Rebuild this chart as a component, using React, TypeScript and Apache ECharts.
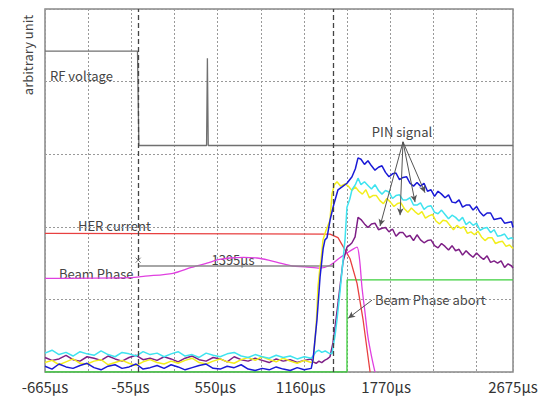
import React, { useEffect, useRef } from 'react';
import * as echarts from 'echarts';

// ---- axis ----
const X_MIN = -665;
const X_MAX = 2675;
const xTickValues = [-665, -55, 550, 1160, 1770, 2675];
const xTickLabels = ['-665μs', '-55μs', '550μs', '1160μs', '1770μs', '2675μs'];
const gridStepUs = 308; // spacing of dotted vertical grid lines (µs)
const Y_MIN = 0;
const Y_MAX = 5;
const markerTimes = [0, 1395]; // dashed vertical lines

// ---- RF voltage ----
const rfTimes = [-665, -5, 5, 488, 494, 500, 2675];
const rfValues = [4.42, 4.42, 3.12, 3.12, 4.32, 3.12, 3.12];

// ---- HER current ----
const herTimes = [-665, 1369, 1426, 1462, 1512, 1562, 1605, 1655];
const herValues = [1.91, 1.9, 1.85, 1.73, 1.56, 1.22, 0.72, 0.0];

// ---- Beam phase ----
const phaseTimes = [-665, -60, 50, 249, 380, 491, 580, 655, 750, 848, 930, 1012, 1100, 1191, 1298, 1369, 1430, 1490, 1540, 1562, 1580, 1597, 1620, 1640, 1665, 1690];
const phaseValues = [1.29, 1.3, 1.32, 1.36, 1.44, 1.5, 1.55, 1.57, 1.58, 1.57, 1.54, 1.5, 1.46, 1.45, 1.43, 1.47, 1.56, 1.64, 1.7, 1.72, 1.55, 1.17, 0.8, 0.48, 0.22, 0.0];

// ---- Beam phase abort (green) ----
const abortTimes = [-665, 1490, 1491, 2675];
const abortValues = [0.0, 0.0, 1.27, 1.27];

// ---- 1395 µs annotation ----
const spanTimes = [0, 1395];
const spanLevel = 1.46;
const spanMarker = [0, 1.54];

// ---- PIN signals: shared baseline ----
const baseTimes = [-665, -615, -565, -515, -465, -415, -365, -315, -265, -215, -165, -115, -65, -15, 35, 85, 135, 185, 235, 285, 335, 385, 435, 485, 535, 585, 635, 685, 735, 785, 835, 885, 935, 985, 1035, 1085, 1135, 1185, 1235];
const blueBase = [0.08, 0.04, 0.11, 0.07, 0.05, 0.09, 0.12, 0.06, 0.03, 0.08, 0.1, 0.05, 0.07, 0.11, 0.04, 0.06, 0.09, 0.05, 0.1, 0.07, 0.03, 0.06, 0.09, 0.11, 0.05, 0.04, 0.08, 0.06, 0.1, 0.04, 0.02, 0.05, 0.03, 0.07, 0.04, 0.02, 0.06, 0.03, 0.05];
const yellowBase = [0.13, 0.16, 0.1, 0.14, 0.18, 0.12, 0.11, 0.15, 0.17, 0.1, 0.13, 0.16, 0.12, 0.09, 0.14, 0.17, 0.13, 0.11, 0.15, 0.12, 0.16, 0.19, 0.13, 0.11, 0.15, 0.18, 0.14, 0.12, 0.17, 0.2, 0.16, 0.21, 0.17, 0.14, 0.19, 0.15, 0.12, 0.16, 0.13];
const purpleBase = [0.2, 0.16, 0.18, 0.23, 0.17, 0.15, 0.21, 0.19, 0.16, 0.22, 0.18, 0.15, 0.2, 0.23, 0.17, 0.19, 0.16, 0.21, 0.18, 0.14, 0.19, 0.22, 0.17, 0.15, 0.2, 0.18, 0.14, 0.21, 0.17, 0.15, 0.19, 0.16, 0.13, 0.18, 0.15, 0.17, 0.13, 0.16, 0.18];
const cyanBase = [0.26, 0.3, 0.24, 0.27, 0.22, 0.28, 0.25, 0.23, 0.29, 0.24, 0.21, 0.27, 0.25, 0.22, 0.28, 0.24, 0.26, 0.21, 0.25, 0.28, 0.22, 0.24, 0.2, 0.26, 0.23, 0.21, 0.25, 0.27, 0.22, 0.2, 0.24, 0.21, 0.19, 0.23, 0.2, 0.22, 0.18, 0.21, 0.19];

// ---- PIN signals: rise ----
const blueRise = [[1248, 0.17], [1262, 0.45], [1276, 0.72], [1298, 1.31], [1320, 1.7], [1333, 1.82], [1348, 1.85], [1369, 2.09], [1395, 2.3], [1426, 2.51], [1455, 2.55], [1490, 2.6], [1526, 2.69], [1550, 2.8], [1569, 2.95]];
const cyanRise = [[1248, 0.22], [1270, 0.28], [1290, 0.3], [1310, 0.27], [1335, 0.29], [1360, 0.26], [1383, 0.25], [1405, 0.5], [1419, 0.72], [1440, 1.1], [1455, 1.4], [1476, 1.82], [1490, 2.27], [1510, 2.38], [1526, 2.51], [1550, 2.58], [1569, 2.67]];
const yellowRise = [[1248, 0.14], [1262, 0.45], [1272, 0.7], [1283, 1.17], [1295, 1.4], [1305, 1.54], [1319, 1.82], [1340, 1.95], [1369, 2.09], [1383, 2.45], [1400, 2.58], [1419, 2.62], [1445, 2.56], [1476, 2.59]];
const purpleRise = [[1248, 0.14], [1270, 0.12], [1290, 0.15], [1310, 0.13], [1330, 0.16], [1350, 0.18], [1369, 0.21], [1390, 0.4], [1405, 0.62], [1420, 0.85], [1440, 1.17], [1462, 1.52], [1490, 1.72], [1510, 1.75], [1526, 1.78], [1548, 1.86], [1569, 2.13]];

// ---- PIN signals: decay ----
const decayTimes = [1590, 1615, 1640, 1665, 1690, 1715, 1740, 1765, 1790, 1815, 1840, 1865, 1890, 1915, 1940, 1965, 1990, 2015, 2040, 2065, 2090, 2115, 2140, 2165, 2190, 2215, 2240, 2265, 2290, 2315, 2340, 2365, 2390, 2415, 2440, 2465, 2490, 2515, 2540, 2565, 2590, 2615, 2640, 2665, 2675];
const blueDecay = [2.93, 2.86, 2.91, 2.84, 2.78, 2.82, 2.84, 2.75, 2.69, 2.73, 2.74, 2.65, 2.68, 2.69, 2.6, 2.56, 2.61, 2.56, 2.6, 2.49, 2.51, 2.42, 2.49, 2.45, 2.4, 2.44, 2.34, 2.33, 2.37, 2.27, 2.3, 2.3, 2.23, 2.28, 2.2, 2.15, 2.19, 2.19, 2.1, 2.11, 2.12, 2.05, 2.06, 2.07, 1.99];
const cyanDecay = [2.58, 2.62, 2.57, 2.52, 2.58, 2.5, 2.45, 2.5, 2.48, 2.39, 2.43, 2.44, 2.37, 2.37, 2.4, 2.3, 2.3, 2.33, 2.24, 2.28, 2.29, 2.2, 2.18, 2.23, 2.17, 2.11, 2.16, 2.13, 2.08, 2.13, 2.03, 2.07, 2.02, 2.05, 1.95, 1.98, 1.99, 1.92, 1.96, 1.87, 1.88, 1.9, 1.83, 1.85, 1.83];
const purpleDecay = [2.1, 2.04, 1.99, 2.04, 2.05, 1.96, 1.98, 1.99, 1.93, 1.97, 1.87, 1.92, 1.92, 1.86, 1.88, 1.81, 1.89, 1.82, 1.78, 1.81, 1.82, 1.74, 1.71, 1.77, 1.73, 1.68, 1.74, 1.67, 1.69, 1.61, 1.67, 1.62, 1.58, 1.64, 1.59, 1.55, 1.6, 1.51, 1.53, 1.5, 1.53, 1.44, 1.49, 1.46, 1.43];
const yellowDecayTimes = [1500, 1525, 1550, 1575, 1600, 1625, 1650, 1675, 1700, 1725, 1750, 1775, 1800, 1825, 1850, 1875, 1900, 1925, 1950, 1975, 2000, 2025, 2050, 2075, 2100, 2125, 2150, 2175, 2200, 2225, 2250, 2275, 2300, 2325, 2350, 2375, 2400, 2425, 2450, 2475, 2500, 2525, 2550, 2575, 2600, 2625, 2650, 2675];
const yellowDecay = [2.56, 2.5, 2.55, 2.49, 2.45, 2.51, 2.4, 2.43, 2.43, 2.36, 2.32, 2.39, 2.34, 2.28, 2.32, 2.33, 2.25, 2.2, 2.26, 2.21, 2.17, 2.21, 2.12, 2.15, 2.17, 2.08, 2.04, 2.09, 2.08, 2.02, 1.96, 2.02, 1.98, 2.0, 1.91, 1.93, 1.89, 1.94, 1.86, 1.81, 1.85, 1.85, 1.77, 1.79, 1.8, 1.73, 1.75, 1.7];

// ---- annotation arrows (data coordinates) ----
const pinArrowFrom = [1890, 3.17];
const pinArrowTo = [[1726, 2.01], [1869, 2.16], [1976, 2.34], [2047, 2.47]];
const abortArrowFrom = [1669, 0.99];
const abortArrowTo = [1498, 0.74];

const zip = (ts: number[], vs: number[]) => ts.map((t, i) => [t, vs[i]]);

export default function App() {
  const ref = useRef<HTMLDivElement>(null);
  useEffect(() => {
    if (!ref.current) return;
    const chart = echarts.init(ref.current, null, { renderer: 'svg' });
    const font = 'Noto Sans CJK JP';
    const txt = '#444';
    const lineBase = { type: 'line', showSymbol: false, symbol: 'none', silent: true } as any;
    const pin = (base: number[], rise: number[][], dt: number[], dv: number[]) =>
      zip(baseTimes, base).concat(rise).concat(zip(dt, dv));
    chart.setOption({
      animation: false,
      backgroundColor: '#fff',
      textStyle: { fontFamily: font },
      grid: { left: 45, right: 41, top: 9, bottom: 24, show: true, borderColor: '#888', borderWidth: 1.5, backgroundColor: 'transparent' },
      xAxis: [
        {
          type: 'value', min: X_MIN, max: X_MAX,
          axisLine: { show: false }, axisTick: { show: false }, splitLine: { show: false },
          axisLabel: {
            customValues: xTickValues,
            formatter: (v: number) => { const i = xTickValues.indexOf(v); return i >= 0 ? xTickLabels[i] : ''; },
            color: '#333', fontSize: 15, fontFamily: font, margin: 7, hideOverlap: false,
          },
        },
        {
          type: 'value', min: 0, max: X_MAX - X_MIN, interval: gridStepUs,
          axisLine: { show: false }, axisTick: { show: false }, axisLabel: { show: false },
          splitLine: { show: true, lineStyle: { color: '#999', type: [2, 2], width: 1 } },
        },
      ],
      yAxis: {
        type: 'value', min: Y_MIN, max: Y_MAX, interval: 1,
        axisLine: { show: false }, axisTick: { show: false }, axisLabel: { show: false },
        splitLine: { show: true, lineStyle: { color: '#999', type: [2, 2], width: 1 } },
      },
      series: [
        { ...lineBase, name: 'abort', data: zip(abortTimes, abortValues), lineStyle: { color: '#3ccf3c', width: 1.3 } },
        {
          ...lineBase, name: 'RF', data: zip(rfTimes, rfValues), lineStyle: { color: '#707070', width: 1.3 },
          markLine: {
            silent: true, symbol: ['none', 'none'], label: { show: false },
            lineStyle: { color: '#444', type: [5, 3], width: 1.3 },
            data: markerTimes.map((t) => ({ xAxis: t })),
          },
        },
        { ...lineBase, name: 'HER', data: zip(herTimes, herValues), lineStyle: { color: '#e84040', width: 1.3 } },
        { ...lineBase, name: 'phase', data: zip(phaseTimes, phaseValues), smooth: 0.3, lineStyle: { color: '#e040e0', width: 1.3 } },
        { ...lineBase, name: 'span', data: spanTimes.map((t) => [t, spanLevel]), lineStyle: { color: '#888', width: 1.3 } },
        {
          type: 'scatter', name: 'x', data: [spanMarker], symbol: 'path://M0,0L10,10M10,0L0,10', symbolSize: 5,
          itemStyle: { color: 'none', borderColor: '#555', borderWidth: 1 }, silent: true,
        },
        { ...lineBase, name: 'pin-purple', data: pin(purpleBase, purpleRise, decayTimes, purpleDecay), lineStyle: { color: '#7e1f86', width: 1.5 } },
        { ...lineBase, name: 'pin-yellow', data: pin(yellowBase, yellowRise, yellowDecayTimes, yellowDecay), lineStyle: { color: '#f2ee1c', width: 1.5 } },
        { ...lineBase, name: 'pin-cyan', data: pin(cyanBase, cyanRise, decayTimes, cyanDecay), lineStyle: { color: '#3fe3ef', width: 1.5 } },
        { ...lineBase, name: 'pin-blue', data: pin(blueBase, blueRise, decayTimes, blueDecay), lineStyle: { color: '#1a1ad6', width: 1.5 } },
        {
          ...lineBase, name: 'arrows', data: [],
          markLine: {
            silent: true, symbol: ['none', 'arrow'], symbolSize: [5, 7], label: { show: false },
            lineStyle: { color: '#555', type: 'solid', width: 1 },
            data: [
              ...pinArrowTo.map((to) => [{ coord: pinArrowFrom }, { coord: to }]),
              [{ coord: abortArrowFrom }, { coord: abortArrowTo }],
            ],
          },
        },
      ],
      graphic: [
        { type: 'text', x: 27, y: 55, rotation: Math.PI / 2, style: { text: 'arbitrary unit', fill: txt, font: `13px "${font}"`, align: 'center', verticalAlign: 'middle' } },
        { type: 'text', x: 50, y: 75, style: { text: 'RF voltage', fill: txt, font: `13px "${font}"`, align: 'left', verticalAlign: 'middle' } },
        { type: 'text', x: 78, y: 225, style: { text: 'HER current', fill: txt, font: `13px "${font}"`, align: 'left', verticalAlign: 'middle' } },
        { type: 'text', x: 59, y: 273, style: { text: 'Beam Phase', fill: txt, font: `13px "${font}"`, align: 'left', verticalAlign: 'middle' } },
        { type: 'text', x: 233, y: 259, style: { text: '1395μs', fill: txt, font: `13px "${font}"`, align: 'center', verticalAlign: 'middle' } },
        { type: 'text', x: 402, y: 131, style: { text: 'PIN signal', fill: txt, font: `13px "${font}"`, align: 'center', verticalAlign: 'middle' } },
        { type: 'text', x: 375, y: 299, style: { text: 'Beam Phase abort', fill: txt, font: `13px "${font}"`, align: 'left', verticalAlign: 'middle' } },
      ],
    });
    return () => chart.dispose();
  }, []);
  return <div ref={ref} style={{ position: 'fixed', left: 0, top: 0, width: 554, height: 396 }} />;
}
